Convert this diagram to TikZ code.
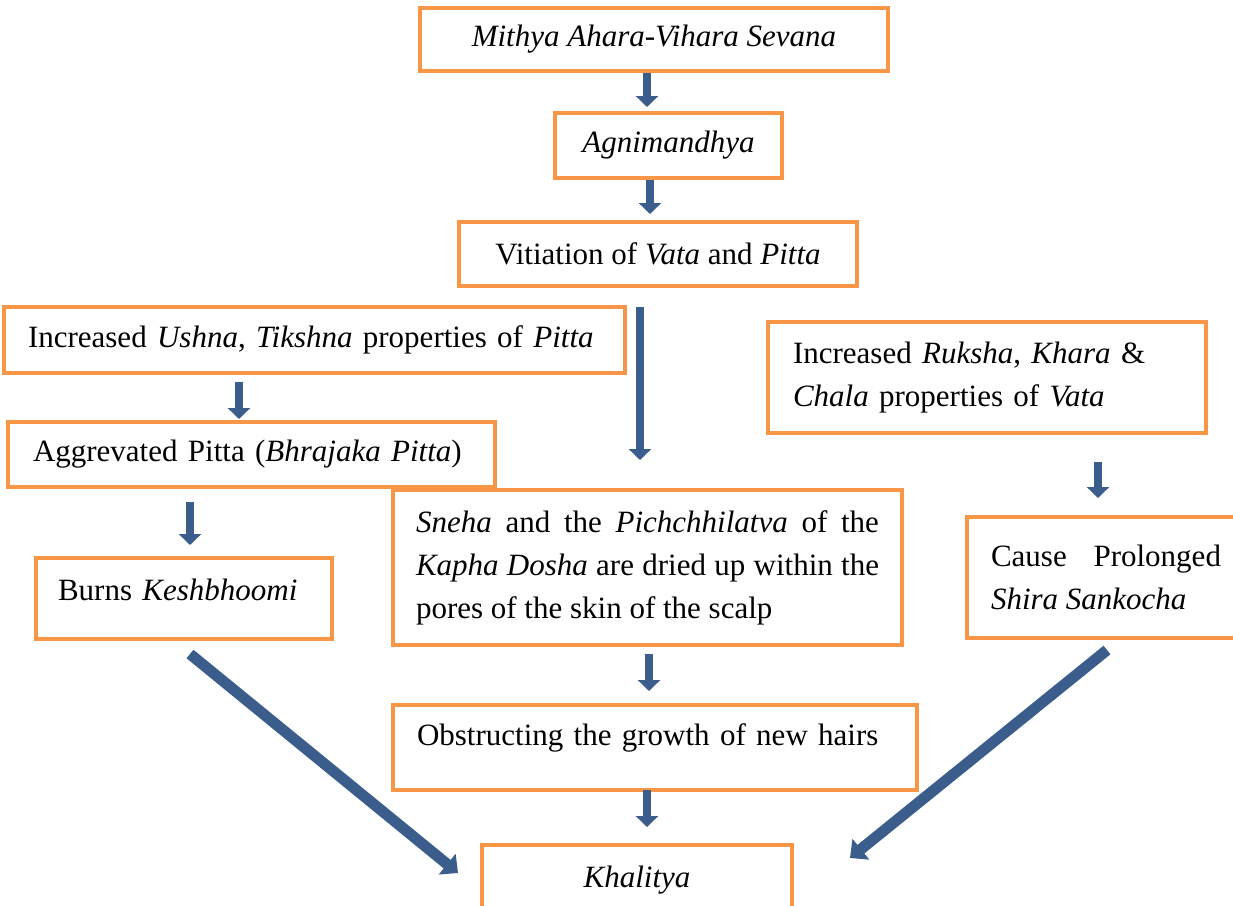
\documentclass[tikz,border=0pt]{standalone}
\usepackage{fontspec}
\setmainfont{Liberation Serif}
\usetikzlibrary{positioning}
\usetikzlibrary{arrows.meta}
\definecolor{boxorange}{HTML}{F79646}
\definecolor{flowblue}{HTML}{3A5D8C}

\begin{document}
\begin{tikzpicture}[
    x=1pt, y=-1pt,
    box/.style={rectangle, draw=boxorange, line width=4pt, inner sep=0pt,
        font=\fontsize{31}{43}\selectfont},
    flow/.style={draw=flowblue, line width=8.5pt,
        -{Triangle[width=22pt, length=11pt]}},
    slant/.style={draw=flowblue, line width=11pt,
        -{Triangle[width=26pt, length=14pt]}}
]
    \useasboundingbox (0,0) rectangle (1233,905);
    \clip (0,0) rectangle (1233,905);

    % Main chain
    \node[box, minimum width=468pt, minimum height=63pt] (mithya) at (654,39.5) {\textit{Mithya Ahara-Vihara Sevana}};
    \node[box, minimum width=227pt, minimum height=65pt] (agni) at (668.5,145.5) {\textit{Agnimandhya}};
    \node[box, minimum width=398pt, minimum height=64pt] (vit) at (658,254) {Vitiation of \textit{Vata} and \textit{Pitta}};

    % Pitta branch
    \node[box, minimum width=621pt, minimum height=66pt, text width=573pt, align=left] (ushna) at (314.5,340) {Increased \textit{Ushna}, \textit{Tikshna} properties of \textit{Pitta}};
    \node[box, minimum width=487pt, minimum height=65pt, text width=437pt, align=left] (aggr) at (251.5,454.5) {Aggrevated Pitta (\textit{Bhrajaka Pitta})};
    \node[box, minimum width=296pt, minimum height=81pt, text width=252pt, align=left, text depth=18pt] (burns) at (184,598.5) {Burns \textit{Keshbhoomi}};

    % Kapha effect
    \node[box, minimum width=509pt, minimum height=155pt, text width=463pt, align=justify] (sneha) at (647.5,567.5) {\textit{Sneha} and the \textit{Pichchhilatva} of the\linebreak \textit{Kapha Dosha} are dried up within the\linebreak pores of the skin of the scalp};
    \node[box, minimum width=524pt, minimum height=85pt, text width=476pt, align=left, text depth=25pt] (obst) at (655,747.5) {Obstructing the growth of new hairs};

    % Vata branch
    \node[box, minimum width=438pt, minimum height=111pt, text width=388pt, align=left] (ruksha) at (987,377.5) {Increased \textit{Ruksha}, \textit{Khara} \&\\ \textit{Chala} properties of \textit{Vata}};
    \node[box, minimum width=278pt, minimum height=121pt, text width=230pt, align=justify] (cause) at (1106,577.5) {Cause Prolonged\linebreak \textit{Shira Sankocha}};

    % Result
    \node[box, minimum width=310pt, minimum height=70pt] (khal) at (637,880) {\textit{Khalitya}};

    % Arrows
    \draw[flow] ([xshift=-7pt]mithya.south) -- ([xshift=-21.5pt, yshift=4pt]agni.north);
    \draw[flow] ([xshift=-18.5pt]agni.south) -- ([xshift=-8pt, yshift=6pt]vit.north);
    \draw[flow] ([xshift=-18pt, yshift=-19pt]vit.south) -- ([xshift=-7.5pt, yshift=28pt]sneha.north);
    \draw[flow] ([xshift=-75.5pt, yshift=-7pt]ushna.south) -- ([xshift=-12.5pt, yshift=1pt]aggr.north);
    \draw[flow] ([xshift=-61.5pt, yshift=-13pt]aggr.south) -- ([xshift=6pt, yshift=11pt]burns.north);
    \draw[flow] ([xshift=111pt, yshift=-27pt]ruksha.south) -- ([xshift=-8pt, yshift=17pt]cause.north);
    \draw[flow] ([xshift=1.5pt, yshift=-7pt]sneha.south) -- ([xshift=-6pt, yshift=12pt]obst.north);
    \draw[flow] ([xshift=-8pt, yshift=2pt]obst.south) -- ([xshift=10pt, yshift=16pt]khal.north);
    \draw[slant] ([xshift=6pt, yshift=-13pt]burns.south) -- ([xshift=-22pt, yshift=7pt]khal.west);
    \draw[slant] ([xshift=1pt, yshift=-10pt]cause.south) -- ([xshift=56pt, yshift=22pt]khal.east);
\end{tikzpicture}
\end{document}
